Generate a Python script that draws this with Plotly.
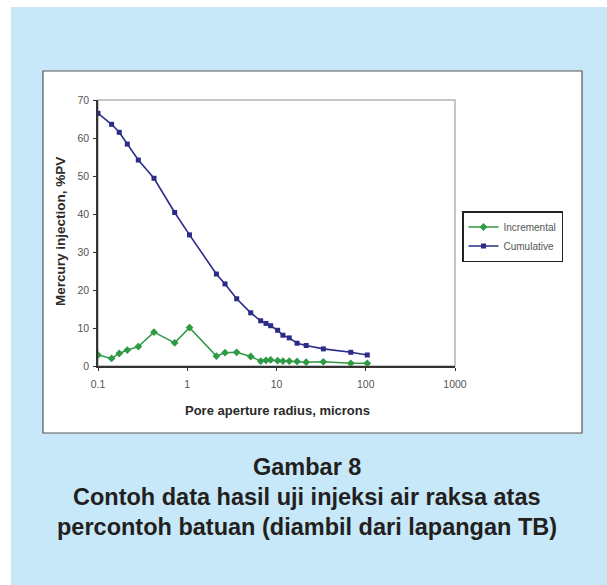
import plotly.graph_objects as go

W, H = 607, 585

# Data
radius = [0.1, 0.142, 0.173, 0.213, 0.283, 0.424, 0.723, 1.06, 2.12, 2.65, 3.58, 5.14,
          6.65, 7.63, 8.6, 10.3, 11.8, 13.9, 17.0, 21.5, 33.5, 68.0, 104.0]
cumulative = [66.5, 63.6, 61.5, 58.4, 54.2, 49.4, 40.4, 34.5, 24.2, 21.6, 17.7, 14.0,
              11.9, 11.2, 10.6, 9.4, 8.1, 7.4, 6.0, 5.4, 4.5, 3.6, 2.9]
incremental = [2.9, 2.0, 3.3, 4.2, 5.1, 8.9, 6.1, 10.1, 2.6, 3.5, 3.6, 2.5,
               1.3, 1.5, 1.6, 1.4, 1.3, 1.3, 1.2, 1.0, 1.1, 0.7, 0.7]
x_ticks = [0.1, 1, 10, 100, 1000]
x_tick_labels = ["0.1", "1", "10", "100", "1000"]
y_ticks = [0, 10, 20, 30, 40, 50, 60, 70]

GREEN = "#2f9a45"
NAVY = "#2b2b88"
FONT = "Liberation Sans, Arial, sans-serif"

def px(x):
    return x / W

def py(y):
    return 1 - y / H

fig = go.Figure()
fig.add_trace(go.Scatter(x=radius, y=incremental, name="Incremental", mode="lines+markers",
                         line=dict(color=GREEN, width=1.5),
                         marker=dict(symbol="diamond", size=6, color=GREEN)))
fig.add_trace(go.Scatter(x=radius, y=cumulative, name="Cumulative", mode="lines+markers",
                         line=dict(color=NAVY, width=1.6),
                         marker=dict(symbol="square", size=5, color=NAVY)))

shapes = [
    # blue page background
    dict(type="rect", xref="paper", yref="paper", x0=px(11), x1=1, y0=0, y1=py(7),
         fillcolor="#c6e8f8", line=dict(width=0), layer="below"),
    # white chart box
    dict(type="rect", xref="paper", yref="paper", x0=px(43), x1=px(582), y0=py(433), y1=py(71),
         fillcolor="white", line=dict(color="#555555", width=1.2), layer="below"),
    # plot area frame (light gray)
    dict(type="rect", xref="x domain", yref="y domain", x0=0, x1=1, y0=0, y1=1,
         fillcolor="rgba(0,0,0,0)", line=dict(color="#b4b4b4", width=1.5), layer="below"),
]

cap_font = dict(family=FONT, size=23.5, color="#231f20")
title_font = dict(family=FONT, size=13, color="#2a2a2a")
annotations = [
    dict(text="<b>Gambar 8</b>", x=px(307), y=py(466.5), xref="paper", yref="paper",
         showarrow=False, font=cap_font, xanchor="center", yanchor="middle"),
    dict(text="<b>Contoh data hasil uji injeksi air raksa atas</b>", x=px(307), y=py(496.5),
         xref="paper", yref="paper", showarrow=False, font=cap_font, xanchor="center", yanchor="middle"),
    dict(text="<b>percontoh batuan (diambil dari lapangan TB)</b>", x=px(307), y=py(526.5),
         xref="paper", yref="paper", showarrow=False, font=cap_font, xanchor="center", yanchor="middle"),
    # axis titles
    dict(text="<b>Pore aperture radius, microns</b>", x=px(277), y=py(410), xref="paper", yref="paper",
         showarrow=False, font=title_font, xanchor="center", yanchor="middle"),
    dict(text="<b>Mercury injection, %PV</b>", x=px(61), y=py(232), xref="paper", yref="paper",
         showarrow=False, font=dict(family=FONT, size=13.5, color="#2a2a2a"), textangle=-90,
         xanchor="center", yanchor="middle"),
]

tick_font = dict(family=FONT, size=10.5, color="#555555")

fig.update_layout(
    width=W, height=H,
    margin=dict(l=0, r=0, t=0, b=0, pad=0),
    paper_bgcolor="white", plot_bgcolor="white",
    shapes=shapes, annotations=annotations,
    showlegend=True,
    legend=dict(x=px(462), y=py(211), xanchor="left", yanchor="top",
                bordercolor="#222222", borderwidth=1.5, bgcolor="white",
                font=dict(family=FONT, size=10, color="#555555"),
                itemwidth=30, tracegroupgap=0),
    xaxis=dict(type="log", range=[-1, 3], domain=[px(98), px(455)], automargin=False,
               tickvals=x_ticks, ticktext=x_tick_labels, tickfont=tick_font,
               ticks="outside", ticklen=3, tickcolor="#333333", ticklabelstandoff=5,
               showgrid=False, zeroline=False, showline=True, linecolor="#333333", linewidth=1.5),
    yaxis=dict(range=[0, 70], domain=[py(366), py(100)], automargin=False,
               tickvals=y_ticks, tickfont=tick_font,
               ticks="outside", ticklen=3, tickcolor="#333333", ticklabelstandoff=2,
               showgrid=False, zeroline=False, showline=True, linecolor="#333333", linewidth=1.5),
)

fig.write_html(
    "out.html",
    config={"responsive": False, "displayModeBar": False},
    post_script=(
        "document.documentElement.style.margin='0';"
        "document.documentElement.style.overflow='hidden';"
        "document.body.style.margin='0';"
        "document.body.style.overflow='hidden';"
    ),
)
